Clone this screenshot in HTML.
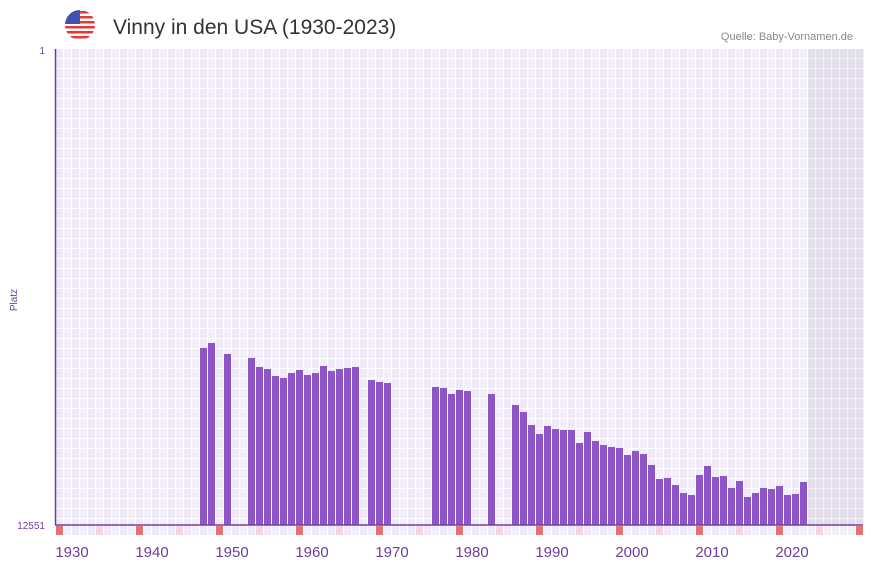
<!DOCTYPE html>
<html><head><meta charset="utf-8"><style>
body{margin:0;background:#fff;width:873px;height:567px;overflow:hidden;font-family:"Liberation Sans",sans-serif}
</style></head><body>
<svg id="s" width="873" height="567" xmlns="http://www.w3.org/2000/svg" style="position:absolute;left:0;top:0">
<defs>
<pattern id="g" x="56" y="49" width="16" height="10" patternUnits="userSpaceOnUse">
<rect width="16" height="10" fill="#fff"/><rect x="0" y="0" width="7" height="9" fill="#eee8f8"/><rect x="8" y="0" width="7" height="9" fill="#f3effa"/>
</pattern>
<pattern id="g2" x="56" y="49" width="8" height="10" patternUnits="userSpaceOnUse">
<rect width="8" height="10" fill="#f2f0f4"/><rect x="0" y="0" width="7" height="9" fill="#e2deec"/>
</pattern>
<clipPath id="fc"><circle cx="80" cy="25" r="15"/></clipPath>
</defs>
<rect x="56" y="49" width="752" height="476" fill="url(#g)"/>
<rect x="808" y="49" width="56" height="476" fill="url(#g2)"/>
<g id="bars" fill="#8e55c6"></g>
<g id="mk"></g>
<line x1="55.5" y1="49" x2="55.5" y2="525" stroke="#6a3fa0" stroke-width="1.5"/>
<line x1="55" y1="525" x2="863" y2="525" stroke="#6a3fa0" stroke-width="1.5"/>
<g clip-path="url(#fc)">
<rect x="64" y="9" width="32" height="32" fill="#fff"/>
<rect x="64" y="11" width="32" height="2.5" fill="#e53935"/><rect x="64" y="16" width="32" height="2.5" fill="#e53935"/>
<rect x="64" y="21" width="32" height="2.5" fill="#e53935"/><rect x="64" y="26" width="32" height="2.5" fill="#e53935"/>
<rect x="64" y="31" width="32" height="2.5" fill="#e53935"/><rect x="64" y="36" width="32" height="2.5" fill="#e53935"/>
<rect x="64" y="9" width="16" height="15" fill="#3f51b5"/>
</g>
<text x="113" y="34" font-size="21" fill="#333">Vinny in den USA (1930-2023)</text>
<text x="853" y="40" font-size="11" fill="#888" text-anchor="end">Quelle: Baby-Vornamen.de</text>
<text x="45" y="54" font-size="10" fill="#6a3fa0" text-anchor="end">1</text>
<text x="45" y="529" font-size="10" fill="#6a3fa0" text-anchor="end">12551</text>
<text x="0" y="0" font-size="10" fill="#6a3fa0" transform="translate(17,300) rotate(-90)" text-anchor="middle">Platz</text>
<g font-size="15" fill="#6a3fa0" text-anchor="middle">
<text x="72" y="557">1930</text><text x="152" y="557">1940</text><text x="232" y="557">1950</text>
<text x="312" y="557">1960</text><text x="392" y="557">1970</text><text x="472" y="557">1980</text>
<text x="552" y="557">1990</text><text x="632" y="557">2000</text><text x="712" y="557">2010</text>
<text x="792" y="557">2020</text>
</g>
</svg>
<script>
var d=[[200,348],[208,343],[224,354],[248,358],[256,367],[264,369],[272,376],[280,378],[288,373],[296,370],[304,375],[312,373],[320,366],[328,371],[336,369],[344,368],[352,367],[368,380],[376,382],[384,383],[432,387],[440,388],[448,394],[456,390],[464,391],[488,394],[512,405],[520,412],[528,425],[536,434],[544,426],[552,429],[560,430],[568,430],[576,443],[584,432],[592,441],[600,445],[608,447],[616,448],[624,455],[632,451],[640,454],[648,465],[656,479],[664,478],[672,485],[680,493],[688,495],[696,475],[704,466],[712,477],[720,476],[728,488],[736,481],[744,497],[752,493],[760,488],[768,489],[776,486],[784,495],[792,494],[800,482]];
var ns="http://www.w3.org/2000/svg",b=document.getElementById("bars"),m=document.getElementById("mk");
d.forEach(function(p){var r=document.createElementNS(ns,"rect");r.setAttribute("x",p[0]);r.setAttribute("y",p[1]);r.setAttribute("width",7);r.setAttribute("height",525-p[1]);b.appendChild(r);});
for(var i=0;i<101;i++){var r=document.createElementNS(ns,"rect");r.setAttribute("x",56+8*i);r.setAttribute("y",526);r.setAttribute("width",7);r.setAttribute("height",9);
var c=i%10==0?"#e57373":(i%5==0?"#f6d6e0":(i>=94?"#f2f0f4":(i%2?"#f3effa":"#eee8f8")));r.setAttribute("fill",c);m.appendChild(r);}
</script>
</body></html>
